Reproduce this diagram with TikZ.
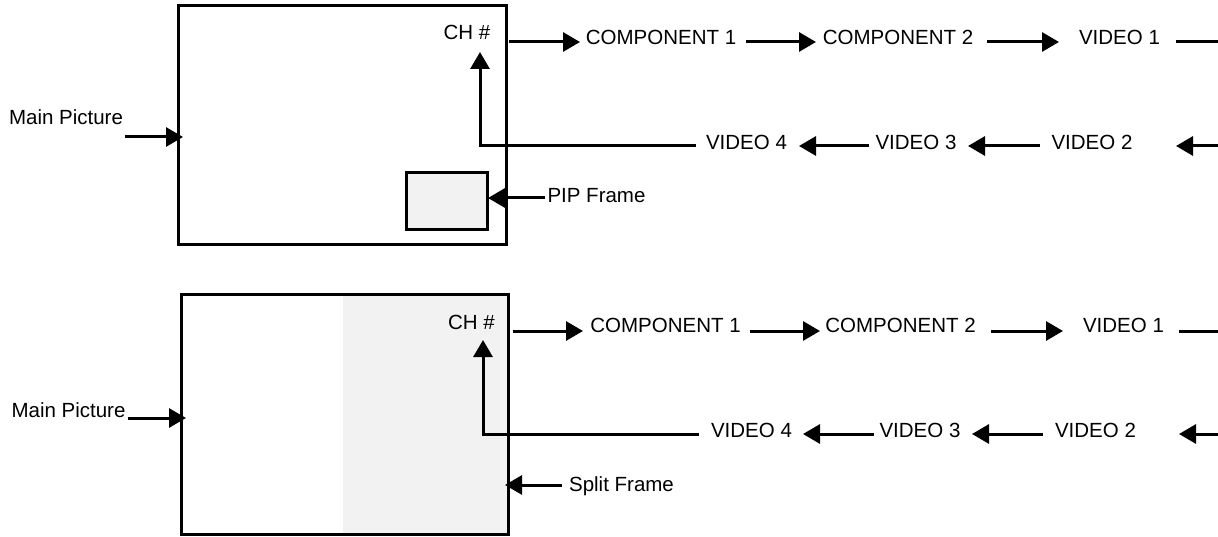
\documentclass[tikz,border=0pt]{standalone}
\usepackage{fontspec}
\setmainfont{Liberation Sans}
\usetikzlibrary{arrows.meta}
\definecolor{framegray}{HTML}{F2F2F2}
\tikzset{
  lbl/.style={inner sep=0pt, anchor=base, font=\fontsize{20.5}{24}\selectfont},
  screen/.style={draw=black, line width=3pt, inner sep=0pt},
  conn/.style={line width=3pt, -{Triangle[length=17pt,width=19pt]}},
  plainline/.style={line width=3pt}
}
\begin{document}
\begin{tikzpicture}[x=1pt,y=-1pt]
\useasboundingbox (0,0) rectangle (1218,537);
% ---------- top: PIP ----------
\node[screen, minimum width=328pt, minimum height=239pt] (scrA) at (342,125.5) {};
\node[screen, fill=framegray, minimum width=81pt, minimum height=57pt] (pip) at (446.5,201.5) {};
\node[lbl] (mainA) at (66,125) {Main Picture};
\node[lbl] (chA) at (467,40) {CH \#};
\node[lbl] (c1A) at (661,45) {COMPONENT 1};
\node[lbl] (c2A) at (898,45) {COMPONENT 2};
\node[lbl] (v1A) at (1119.5,45) {VIDEO 1};
\node[lbl] (v2A) at (1092,150) {VIDEO 2};
\node[lbl] (v3A) at (916,150) {VIDEO 3};
\node[lbl] (v4A) at (746.5,150) {VIDEO 4};
\node[lbl] (pipL) at (596.5,203) {PIP Frame};
% connectors
\coordinate (mAs) at (125,137); \coordinate (mAe) at (183,137);
\draw[conn] (mAs) -- (mAe);
\coordinate (a1s) at (509,42); \coordinate (a1e) at (580,42);
\draw[conn] (a1s) -- (a1e);
\coordinate (a2s) at (746,42); \coordinate (a2e) at (816,42);
\draw[conn] (a2s) -- (a2e);
\coordinate (a3s) at (987,42); \coordinate (a3e) at (1059,42);
\draw[conn] (a3s) -- (a3e);
\coordinate (a4s) at (1176,42); \coordinate (a4e) at (1218,42);
\draw[plainline] (a4s) -- (a4e);
\coordinate (b1s) at (1218,146); \coordinate (b1e) at (1176,146);
\draw[conn] (b1s) -- (b1e);
\coordinate (b2s) at (1040,146); \coordinate (b2e) at (968,146);
\draw[conn] (b2s) -- (b2e);
\coordinate (b3s) at (869,146); \coordinate (b3e) at (799,146);
\draw[conn] (b3s) -- (b3e);
\coordinate (b4s) at (696,146); \coordinate (b4e) at (480,52);
\draw[conn] (b4s) -| (b4e);
\coordinate (ps) at (545,198); \coordinate (pe) at (488,198);
\draw[conn] (ps) -- (pe);
% ---------- bottom: split ----------
\fill[framegray] (343,295) rectangle (508,534);
\node[screen, minimum width=327pt, minimum height=239pt] (scrB) at (344.5,414.5) {};
\node[lbl] (mainB) at (68.5,417) {Main Picture};
\node[lbl] (chB) at (471.5,330) {CH \#};
\node[lbl] (c1B) at (665.5,333) {COMPONENT 1};
\node[lbl] (c2B) at (900.5,333) {COMPONENT 2};
\node[lbl] (v1B) at (1123.5,333) {VIDEO 1};
\node[lbl] (v2B) at (1095.5,437) {VIDEO 2};
\node[lbl] (v3B) at (920,437) {VIDEO 3};
\node[lbl] (v4B) at (751.5,437) {VIDEO 4};
\node[lbl] (splitL) at (621.5,491) {Split Frame};
\coordinate (mBs) at (128,418); \coordinate (mBe) at (186,418);
\draw[conn] (mBs) -- (mBe);
\coordinate (c1s) at (513,331); \coordinate (c1e) at (583,331);
\draw[conn] (c1s) -- (c1e);
\coordinate (c2s) at (750,331); \coordinate (c2e) at (820,331);
\draw[conn] (c2s) -- (c2e);
\coordinate (c3s) at (991,331); \coordinate (c3e) at (1063,331);
\draw[conn] (c3s) -- (c3e);
\coordinate (c4s) at (1179,331); \coordinate (c4e) at (1218,331);
\draw[plainline] (c4s) -- (c4e);
\coordinate (d1s) at (1218,434); \coordinate (d1e) at (1179,434);
\draw[conn] (d1s) -- (d1e);
\coordinate (d2s) at (1043,434); \coordinate (d2e) at (972,434);
\draw[conn] (d2s) -- (d2e);
\coordinate (d3s) at (874,434); \coordinate (d3e) at (803,434);
\draw[conn] (d3s) -- (d3e);
\coordinate (d4s) at (699,434); \coordinate (d4e) at (483,340);
\draw[conn] (d4s) -| (d4e);
\coordinate (ss) at (562,485); \coordinate (se) at (505,485);
\draw[conn] (ss) -- (se);
\end{tikzpicture}
\end{document}
